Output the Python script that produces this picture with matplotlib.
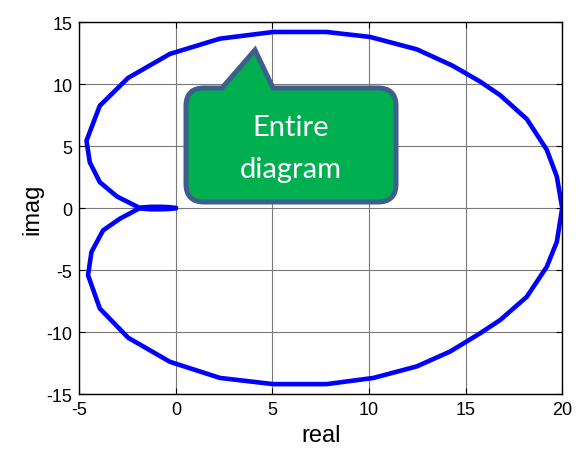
import matplotlib.pyplot as plt
from matplotlib.path import Path
from matplotlib.patches import PathPatch
from matplotlib.transforms import IdentityTransform

real_sup = [0.0, -0.3, -0.8, -1.3, -1.9, -3.05, -3.94, -4.46, -4.63, -3.94, -2.47,
            -0.31, 2.28, 5.04, 7.8, 10.05, 12.47, 14.3, 15.75, 16.79, 18.17,
            19.2, 19.72, 20.0]
imag_sup = [0.0, 0.07, 0.1, 0.1, 0.03, 0.93, 2.09, 3.7, 5.43, 8.25, 10.5,
            12.43, 13.66, 14.2, 14.2, 13.8, 12.8, 11.5, 10.2, 9.1, 7.17,
            4.7, 2.55, 0.0]
# parte imag negativa, de 20 de volta até 0
real_inf = [20.0, 19.72, 19.2, 18.17, 16.79, 15.75, 14.2, 12.47, 10.23, 7.8,
            5.04, 2.28, -0.31, -2.47, -3.94, -4.55, -4.37, -3.77, -2.9, -1.9,
            -1.3, -0.8, -0.3, 0.0]
imag_inf = [0.0, -2.73, -4.74, -7.15, -9.03, -10.1, -11.57, -12.77, -13.7, -14.2,
            -14.2, -13.7, -12.4, -10.46, -8.1, -5.41, -3.54, -1.8, -0.86, -0.03,
            -0.1, -0.1, -0.07, 0.0]

x_ticks = [-5, 0, 5, 10, 15, 20]
y_ticks = [-15, -10, -5, 0, 5, 10, 15]

plt.rcParams['font.family'] = ['Liberation Sans', 'DejaVu Sans']
plt.rcParams['axes.unicode_minus'] = False

fig = plt.figure(figsize=(5.79, 4.52), dpi=100)
ax = fig.add_axes([0.137, 0.126, 0.834, 0.823])

ax.plot(real_sup + real_inf, imag_sup + imag_inf, color='#0000FF', lw=3.3,
        solid_joinstyle='round', solid_capstyle='round')

ax.set_xlim(-5, 20)
ax.set_ylim(-15, 15)
ax.set_xticks(x_ticks)
ax.set_yticks(y_ticks)
ax.tick_params(direction='in', length=4, width=0.8, labelsize=13, top=True,
               right=True, pad=5)
ax.grid(True, color='#7a7a7a', lw=0.8)
for s in ax.spines.values():
    s.set_linewidth(1.0)
ax.set_xlabel('real', fontsize=17, labelpad=4)
ax.set_ylabel('imag', fontsize=17, labelpad=2)

# balão "Entire diagram" (coordenadas em pixels da imagem)
H = 452
esq, dir_, topo, base, r = 186, 396, 89, 203, 18
pts = [
    (esq + r, topo), (222, topo), (255, 51), (273, topo), (dir_ - r, topo),
    (dir_, topo), (dir_, topo + r), (dir_, base - r),
    (dir_, base), (dir_ - r, base), (esq + r, base),
    (esq, base), (esq, base - r), (esq, topo + r),
    (esq, topo), (esq + r, topo), (esq + r, topo),
]
codes = [Path.MOVETO, Path.LINETO, Path.LINETO, Path.LINETO, Path.LINETO,
         Path.CURVE3, Path.CURVE3, Path.LINETO,
         Path.CURVE3, Path.CURVE3, Path.LINETO,
         Path.CURVE3, Path.CURVE3, Path.LINETO,
         Path.CURVE3, Path.CURVE3, Path.CLOSEPOLY]
caminho = Path([(x, H - y) for x, y in pts], codes)
balao = PathPatch(caminho, facecolor='#00B050', edgecolor='#3C5F8C', lw=3.6,
                  transform=IdentityTransform(), joinstyle='miter')
fig.patches.append(balao)
fig.text(291 / 579, 1 - 149 / H, 'Entire\ndiagram', color='white', fontsize=21,
         family=['Lato', 'DejaVu Sans'], ha='center', va='center', linespacing=1.8)

plt.savefig('out.png', dpi=100)
